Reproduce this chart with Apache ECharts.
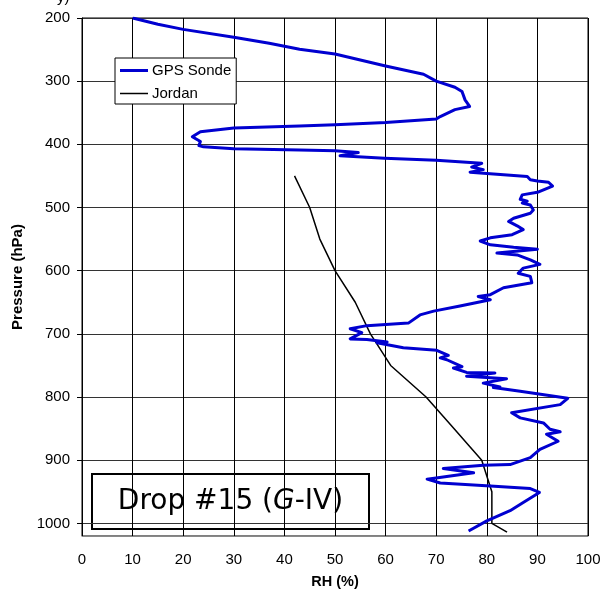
<!DOCTYPE html>
<html>
<head>
<meta charset="utf-8">
<script src="https://cdn.jsdelivr.net/npm/echarts@6/dist/echarts.min.js"></script>
<style>
  html, body { margin: 0; padding: 0; background: #fff; }
  #chart { width: 602px; height: 590px; }
</style>
</head>
<body>
<div id="chart"></div>
<script>
// tick labels
var rhTicks = [0, 10, 20, 30, 40, 50, 60, 70, 80, 90, 100];
var pressureTicks = [200, 300, 400, 500, 600, 700, 800, 900, 1000];

// [RH %, pressure hPa], in drop order
var gpsSonde = [
  [10, 200], [15, 210], [20, 218], [30, 230.5], [37, 240], [43, 249.5], [50, 257], [60, 276],
  [67.5, 289], [70, 300], [73.7, 309.6], [75.1, 316.5], [75.7, 329.6], [76.6, 340], [73.7, 345],
  [70.8, 356], [70, 360], [60, 365.5], [50, 369], [43, 371], [30, 374], [23.4, 380], [21.8, 388],
  [23.4, 395.5], [23.1, 402], [24, 404], [30, 407], [43, 409], [50, 410], [54.6, 413], [51, 418],
  [59.8, 422], [70, 425], [79, 430], [77, 436], [79.3, 440], [76.7, 444], [80, 446], [88, 451],
  [88.6, 456], [90, 458], [92.2, 460], [93, 466], [91.2, 472], [90, 476], [87, 480], [86.6, 487],
  [88, 490], [87, 493], [88.6, 496], [89.2, 504], [88.6, 509], [85.3, 517], [84.3, 522], [86, 529],
  [87.2, 535], [85, 543], [80.7, 548], [78.7, 553], [80.7, 559], [85.3, 563], [90, 566], [82, 572],
  [86, 575], [88.6, 583], [90.5, 590], [87.2, 596], [86.2, 604], [88.6, 609], [88.9, 619],
  [83.3, 627], [80.7, 638], [78.3, 641], [80.7, 646], [74.7, 656], [69.5, 664], [66.8, 670],
  [64.5, 683], [56.3, 687], [53, 692], [55.3, 698], [53, 708], [56.3, 709], [60.3, 713], [58.3, 714],
  [63.5, 722], [70.1, 726], [72.4, 734], [70.8, 738], [72.1, 741], [75.1, 752], [73.4, 754],
  [76, 761], [81.6, 762], [76, 767], [83.9, 771], [79.3, 778], [82.6, 784], [81.3, 785], [86.6, 791],
  [96, 802], [94.5, 812], [84.9, 825], [86.6, 833], [91.2, 841], [92.5, 851], [94.5, 855],
  [91.8, 859], [94.1, 870], [90.5, 883], [88.6, 896], [84.6, 907], [79.3, 908], [71.4, 913],
  [77.4, 920], [68.2, 930], [70.8, 936], [80.7, 941], [88.6, 945], [90.4, 951], [87.2, 967],
  [84.6, 980], [80, 996], [76.4, 1012]
];

var jordan = [
  [42, 450], [45, 500], [47, 550], [50, 600], [54, 650], [57, 700], [61, 750], [68, 800],
  [73.5, 850], [79, 900], [81, 950], [81, 1000], [84, 1014]
];

var font = 'Liberation Sans, Arial, sans-serif';

var chart = echarts.init(document.getElementById('chart'));
var option = {
  backgroundColor: '#fff',
  animation: false,
  textStyle: { fontFamily: font },
  grid: {
    left: 82, right: 14, top: 18, bottom: 54,
    outerBoundsMode: 'none',
    containLabel: false,
    show: true, borderColor: '#000', borderWidth: 1
  },
  legend: {
    data: [
      { name: 'GPS Sonde', icon: 'path://M0,0H28V3H0Z' },
      { name: 'Jordan', icon: 'path://M0,0H28V1.5H0Z' }
    ],
    symbolKeepAspect: true,
    orient: 'vertical',
    left: 115, top: 58,
    padding: [5, 5, 3, 5],
    itemWidth: 28, itemHeight: 14, itemGap: 8,
    borderColor: '#000', borderWidth: 1,
    backgroundColor: '#fff',
    textStyle: { fontFamily: font, fontSize: 15, color: '#000', padding: [0, 0, 0, -1] }
  },
  xAxis: {
    type: 'value',
    min: 0, max: 100, interval: 10,
    name: 'RH (%)',
    nameLocation: 'middle',
    nameGap: 38,
    nameTextStyle: { fontFamily: font, fontSize: 14.5, fontWeight: 'bold', color: '#000' },
    axisLine: { show: true, lineStyle: { color: '#888', width: 1 } },
    axisTick: { show: false },
    axisLabel: { fontFamily: font, fontSize: 15, color: '#000', margin: 16,
      customValues: rhTicks, formatter: function (v) { return String(v); } },
    splitLine: { show: true, lineStyle: { color: '#000', width: 1 } }
  },
  yAxis: {
    type: 'value',
    inverse: true,
    min: 200, max: 1020, interval: 100,
    name: 'Pressure (hPa)',
    nameLocation: 'middle',
    nameGap: 55,
    nameTextStyle: { fontFamily: font, fontSize: 15, fontWeight: 'bold', color: '#000' },
    axisLine: { show: true, onZero: false, lineStyle: { color: '#000', width: 1 } },
    axisTick: { show: true, inside: false, length: 5, lineStyle: { color: '#000' },
      customValues: pressureTicks },
    axisLabel: { fontFamily: font, fontSize: 15, color: '#000', margin: 12,
      customValues: pressureTicks, formatter: function (v) { return String(v); } },
    splitLine: { show: true, lineStyle: { color: '#333', width: 1 } }
  },
  series: [
    {
      name: 'GPS Sonde',
      type: 'line',
      data: gpsSonde,
      showSymbol: false,
      symbol: 'none',
      smooth: false,
      lineStyle: { color: '#0000d0', width: 3, join: 'round' },
      itemStyle: { color: '#0000d0' },
      z: 3
    },
    {
      name: 'Jordan',
      type: 'line',
      data: jordan,
      showSymbol: false,
      symbol: 'none',
      lineStyle: { color: '#000', width: 1.5 },
      itemStyle: { color: '#000' },
      z: 2
    }
  ],
  graphic: [
    {
      type: 'text',
      left: 57, top: -10,
      style: { text: 'y)', font: '15px ' + font, fill: '#000' }
    },
    {
      type: 'group',
      left: 91, top: 473,
      z: 10,
      children: [
        {
          type: 'rect',
          shape: { x: 0, y: 0, width: 277, height: 55 },
          style: { fill: '#fff', stroke: '#000', lineWidth: 2 }
        },
        {
          type: 'text',
          x: 138.5, y: 28,
          style: {
            text: '{a|Drop #15 (}{i|G}{a|-IV)}',
            align: 'center',
            verticalAlign: 'middle',
            rich: {
              a: { fontFamily: 'DejaVu Sans', fontSize: 28, fill: '#000' },
              i: { fontFamily: 'DejaVu Sans', fontSize: 28, fontStyle: 'italic', fill: '#000' }
            }
          }
        }
      ]
    }
  ]
};
chart.setOption(option);
</script>
</body>
</html>
